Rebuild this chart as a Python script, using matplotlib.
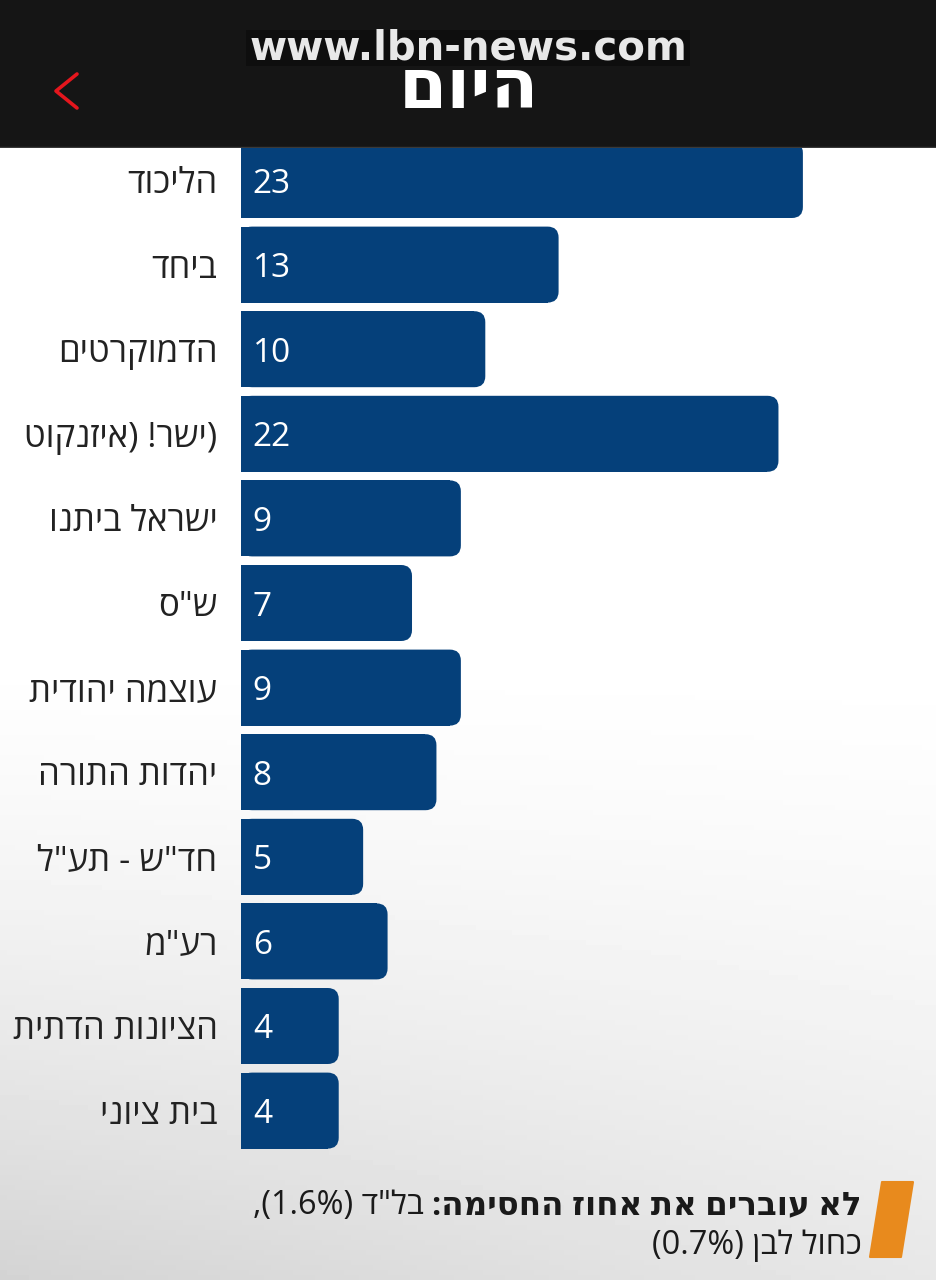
import re
import numpy as np
import matplotlib
matplotlib.use("Agg")
import matplotlib.pyplot as plt
from matplotlib.patches import FancyBboxPatch, Rectangle, Polygon

plt.rcParams['font.family'] = ['Open Sans', 'DejaVu Sans']

# data
parties = ['הליכוד', 'ביחד', 'הדמוקרטים', 'ישר! (איזנקוט)', 'ישראל ביתנו', 'ש"ס',
           'עוצמה יהודית', 'יהדות התורה', 'חד"ש - תע"ל', 'רע"מ', 'הציונות הדתית', 'בית ציוני']
seats = [23, 13, 10, 22, 9, 7, 9, 8, 5, 6, 4, 4]
note_bold = 'לא עוברים את אחוז החסימה:'
note_rest = ' בל"ד (1.6%),'
note_line2 = 'כחול לבן (0.7%)'
site = 'www.lbn-news.com'
logo = 'היום'

BAR = '#05407a'
W, H = 937, 1280


def rtl(s):
    # no bidi in matplotlib -> flip to visual order by hand
    r = s[::-1].translate(str.maketrans('()', ')('))
    return re.sub(r'[0-9.%]+', lambda m: m.group(0)[::-1], r)


def label_vis(s):
    # the source page leaves a trailing ")" at the end (ltr context)
    if s.endswith(')'):
        return rtl(s[:-1]) + ')'
    return rtl(s)


fig = plt.figure(figsize=(W / 100, H / 100), dpi=100)

# background gradient, pixel coords
bg = fig.add_axes([0, 0, 1, 1], zorder=-1)
yy = np.linspace(0, 1, 256)[:, None]
xx = np.linspace(0, 1, 128)[None, :]
shade = 1 - 0.17 * np.clip((yy - 0.5) / 0.5, 0, 1) ** 1.4 * (1 - 0.45 * xx)
bg.imshow(shade, cmap='gray', vmin=0, vmax=1, extent=[0, W, H, 0], aspect='auto')
bg.set_xlim(0, W)
bg.set_ylim(H, 0)
bg.axis('off')

# main bar chart
top_px, step = 180 - 84.6 / 2, 84.6
n = len(parties)
ax = fig.add_axes([241 / W, 1 - (top_px + n * step) / H, 1 - 241 / W, n * step / H])
ax.set_facecolor('none')
px_per_unit = 24.43
ax.set_xlim(0, (W - 241) / px_per_unit)
ax.set_ylim(n - 0.5, -0.5)
y = np.arange(n)
bh = 76 / step
r = 11 / px_per_unit
aspect = (1 / step) / (1 / px_per_unit)
bars = ax.barh(y, [v - r for v in seats], height=bh, color=BAR, zorder=2)
for b, v in zip(bars, seats):
    ax.add_patch(FancyBboxPatch((b.get_x(), b.get_y()), v, b.get_height(),
                                boxstyle=f'round,pad=0,rounding_size={r}',
                                mutation_aspect=aspect, fc=BAR, ec='none', zorder=2))
    ax.annotate(str(v), (0, b.get_y() + b.get_height() / 2), xytext=(8.5, 0),
                textcoords='offset points', ha='left', va='center_baseline',
                color='white', fontsize=24, zorder=3)
ax.set_yticks(y, [label_vis(p) for p in parties])
ax.tick_params(axis='y', length=0, pad=17, labelsize=25, labelcolor='#222222')
ax.set_xticks([])
for s in ax.spines.values():
    s.set_visible(False)

# header
hd = fig.add_axes([0, 1 - 148 / H, 1, 148 / H], zorder=10)
hd.set_xlim(0, W)
hd.set_ylim(148, 0)
hd.set_facecolor('#151515')
hd.set_xticks([])
hd.set_yticks([])
for s in hd.spines.values():
    s.set_visible(False)
hd.axhline(147, color='#3a3a3a', lw=1)
hd.plot([77, 56, 77], [74, 91, 108], color='#e5161d', lw=2.6, solid_capstyle='round')
hd.text(469, 108, rtl(logo), ha='center', va='baseline', color='white', fontsize=50,
        fontweight='heavy', family=['DejaVu Sans'], zorder=2)
hd.add_patch(Rectangle((246, 30), 444, 36, fc='#0e0e0e', ec='none', zorder=3))
hd.text(468, 49, site, ha='center', va='center', color='#e8e8e8', fontsize=29,
        fontweight='bold', family=['DejaVu Sans'], zorder=4)

# footer note
bg.add_patch(Polygon([(882, 1182), (913, 1182), (901, 1257), (870, 1257)],
                     closed=True, fc='#e88a1d', ec='#e88a1d', lw=1.5, joinstyle='round'))
t1 = bg.text(862, 1214, rtl(note_bold), ha='right', va='baseline', fontsize=23.4,
             fontweight='bold', color='#1a1a1a')
fig.canvas.draw()
x0 = bg.transData.inverted().transform(t1.get_window_extent().p0)[0]
bg.text(x0, 1214, rtl(note_rest), ha='right', va='baseline', fontsize=23.4, color='#1a1a1a')
bg.text(862, 1254, rtl(note_line2), ha='right', va='baseline', fontsize=23.4, color='#1a1a1a')

fig.savefig('out.png', dpi=100)
